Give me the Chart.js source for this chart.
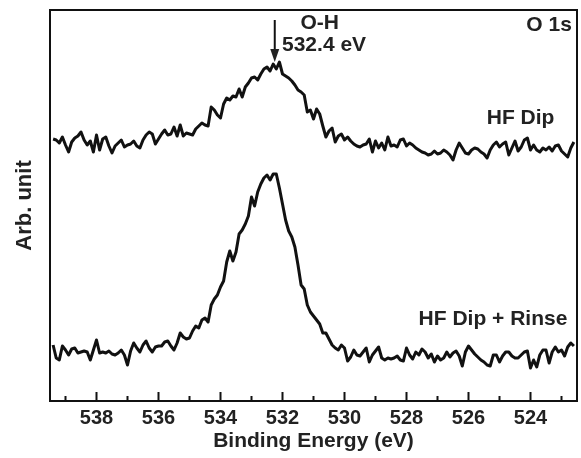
<!DOCTYPE html>
<html>
<head>
<meta charset="utf-8">
<script src="https://cdn.jsdelivr.net/npm/chart.js@4"></script>
<style>
html,body{margin:0;padding:0;background:#fff;}
</style>
</head>
<body>
<canvas id="xps" width="581" height="458"></canvas>
<script>
// binding energy grid, 0.1 eV steps from 539.4 down to 522.6
const energyStart = 539.4;
const energyStep = 0.1;

// HF Dip (upper trace), arb. units
const hfDip = [
262,261,258,264,256,249,259,263,265,269,261,256,260,249,266,251,262,264,255,248,
255,258,261,254,256,257,260,255,253,261,266,269,267,257,262,267,271,266,267,274,
265,276,265,268,267,266,272,275,278,276,275,294,291,286,283,297,303,301,305,304,
312,304,314,318,323,324,321,327,332,334,330,337,332,339,327,325,323,320,316,311,
309,306,289,291,282,292,287,275,264,270,273,259,265,267,261,264,260,257,255,254,
256,257,262,249,260,253,258,251,264,255,256,254,261,262,255,258,256,253,251,249,
248,246,247,250,247,248,251,249,246,241,251,258,253,248,247,251,253,252,249,247,
243,251,256,259,254,257,259,246,253,260,250,254,261,263,251,256,251,249,253,251,
254,250,255,256,250,247,244,253,259
];

// HF Dip + Rinse (lower trace), arb. units
const hfDipRinse = [
56,43,41,55,51,46,52,53,48,49,50,49,41,51,61,48,49,48,50,47,
46,48,51,46,36,50,58,53,49,56,60,53,49,54,55,55,59,60,55,51,
58,68,64,62,63,70,75,73,81,83,79,96,102,106,114,120,139,150,140,149,
167,171,177,185,204,195,209,217,223,226,221,227,227,213,197,181,170,164,154,136,
116,112,96,89,85,81,77,68,68,62,56,53,51,56,53,40,44,51,46,45,
49,53,39,46,50,54,43,41,43,42,43,45,41,40,53,46,42,49,46,52,
49,43,47,39,45,41,43,49,44,48,50,45,35,49,55,51,47,44,41,39,
36,35,46,46,39,45,49,49,45,43,43,46,49,50,33,41,34,46,51,51,
38,49,54,49,51,45,54,58,55
];

const tickValues = [538, 536, 534, 532, 530, 528, 526, 524];
const minorTickValues = [539, 537, 535, 533, 531, 529, 527, 525, 523];

const notes = [
  { text: "O-H", x: 530.8, y: 378 },
  { text: "532.4 eV", x: 530.66, y: 356 },
  { text: "O 1s", x: 523.4, y: 376 },
  { text: "HF Dip", x: 524.32, y: 283 },
  { text: "HF Dip + Rinse", x: 525.21, y: 82 }
];
const arrowAt = { x: 532.25, from: 381, to: 339 };

const energies = hfDip.map((v, i) => +(energyStart - i * energyStep).toFixed(1));
const toPoints = arr => arr.map((v, i) => ({ x: energies[i], y: v }));

const FONT = "'Liberation Sans', Arial, Helvetica, sans-serif";

const framePlugin = {
  id: "frame",
  afterDraw(chart) {
    const ctx = chart.ctx;
    const a = chart.chartArea;
    const xs = chart.scales.x;
    const ys = chart.scales.y;
    ctx.save();
    ctx.strokeStyle = "#111";
    ctx.lineWidth = 2;
    ctx.strokeRect(a.left, a.top, a.right - a.left, a.bottom - a.top);
    // inward ticks
    ctx.beginPath();
    tickValues.forEach(v => {
      const px = xs.getPixelForValue(v);
      ctx.moveTo(px, a.bottom);
      ctx.lineTo(px, a.bottom - 9);
    });
    minorTickValues.forEach(v => {
      const px = xs.getPixelForValue(v);
      ctx.moveTo(px, a.bottom);
      ctx.lineTo(px, a.bottom - 5);
    });
    ctx.stroke();

    // annotations
    ctx.fillStyle = "#222";
    ctx.font = "bold 21px " + FONT;
    ctx.textAlign = "center";
    ctx.textBaseline = "middle";
    notes.forEach(n => {
      ctx.fillText(n.text, xs.getPixelForValue(n.x), ys.getPixelForValue(n.y));
    });

    // arrow
    const ax = xs.getPixelForValue(arrowAt.x);
    const y1 = ys.getPixelForValue(arrowAt.from);
    const y2 = ys.getPixelForValue(arrowAt.to);
    ctx.beginPath();
    ctx.lineWidth = 2;
    ctx.moveTo(ax, y1);
    ctx.lineTo(ax, y2 - 10);
    ctx.stroke();
    ctx.beginPath();
    ctx.moveTo(ax - 4.5, y2 - 13);
    ctx.lineTo(ax + 4.5, y2 - 13);
    ctx.lineTo(ax, y2);
    ctx.closePath();
    ctx.fill();
    ctx.restore();
  }
};

new Chart(document.getElementById("xps"), {
  type: "line",
  data: {
    datasets: [
      { label: "HF Dip", data: toPoints(hfDip) },
      { label: "HF Dip + Rinse", data: toPoints(hfDipRinse) }
    ]
  },
  options: {
    responsive: false,
    animation: false,
    devicePixelRatio: 1,
    layout: { padding: { top: 10, right: 4, left: 0, bottom: 0 } },
    elements: {
      line: { borderColor: "#111", borderWidth: 3, tension: 0, borderJoinStyle: "round" },
      point: { radius: 0 }
    },
    plugins: {
      legend: { display: false },
      tooltip: { enabled: false }
    },
    scales: {
      x: {
        type: "linear",
        reverse: true,
        min: 522.5,
        max: 539.5,
        grid: { display: false, drawTicks: false },
        border: { display: false },
        afterBuildTicks: s => { s.ticks = tickValues.map(v => ({ value: v })); },
        afterFit: s => { s.height = 57; },
        ticks: {
          color: "#222",
          padding: 5,
          maxRotation: 0,
          font: { family: FONT, size: 20, weight: "bold" }
        },
        title: {
          display: true,
          text: "Binding Energy (eV)",
          color: "#222",
          padding: { top: 0, bottom: 4 },
          font: { family: FONT, size: 21, weight: "bold" }
        }
      },
      y: {
        min: 0,
        max: 391,
        grid: { display: false, drawTicks: false },
        border: { display: false },
        ticks: { display: false },
        afterFit: s => { s.width = 50; },
        title: {
          display: true,
          text: "Arb. unit",
          color: "#222",
          padding: { top: 12, bottom: 0 },
          font: { family: FONT, size: 22, weight: "bold" }
        }
      }
    }
  },
  plugins: [framePlugin]
});
</script>
</body>
</html>
